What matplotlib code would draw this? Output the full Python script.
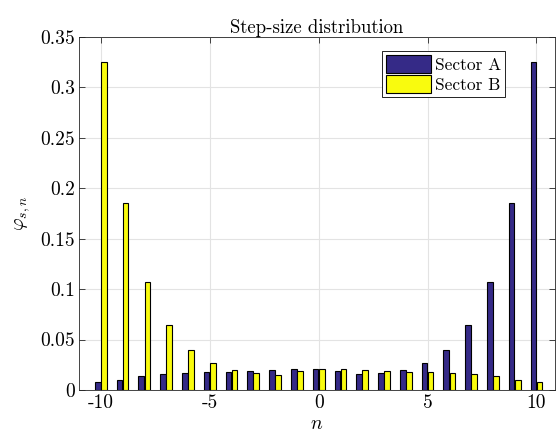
import matplotlib
matplotlib.use("Agg")
import matplotlib.pyplot as plt
import numpy as np

plt.rcParams['font.family'] = ['cmr10', 'DejaVu Serif']
plt.rcParams['mathtext.fontset'] = 'cm'
plt.rcParams['axes.formatter.use_mathtext'] = True

# step sizes and their probabilities for each sector
n = np.arange(-10, 11)
sector_a = [0.0083, 0.010, 0.014, 0.016, 0.017, 0.0177, 0.0183, 0.019, 0.020, 0.0207, 0.021,
            0.0193, 0.0157, 0.0167, 0.020, 0.0267, 0.040, 0.064, 0.107, 0.185, 0.325]
sector_b = [0.325, 0.185, 0.107, 0.064, 0.040, 0.027, 0.0197, 0.0167, 0.0153, 0.019, 0.021,
            0.0207, 0.020, 0.019, 0.0183, 0.0177, 0.017, 0.016, 0.014, 0.010, 0.0083]
x_ticks = [-10, -5, 0, 5, 10]
x_ticklabels = ['-10', '-5', '0', '5', '10']
y_ticks = [0, 0.05, 0.1, 0.15, 0.2, 0.25, 0.3, 0.35]
y_ticklabels = ['0', '0.05', '0.1', '0.15', '0.2', '0.25', '0.3', '0.35']

col_a = (0.2081, 0.1663, 0.5292)
col_b = (0.9763, 0.9831, 0.0538)
axcol = (0.15, 0.15, 0.15)

fig = plt.figure(figsize=(5.56, 4.44), dpi=100)
ax = fig.add_axes([79 / 556, 54 / 444, 476 / 556, 353.3 / 444])

w = 0.26
ax.bar(n - 0.14, sector_a, width=w, color=col_a, edgecolor='black', linewidth=0.8,
       label='Sector A', zorder=3)
ax.bar(n + 0.14, sector_b, width=w, color=col_b, edgecolor='black', linewidth=0.8,
       label='Sector B', zorder=3)

ax.set_xlim(-11, 10.85)
ax.set_ylim(0, 0.35)
ax.set_xticks(x_ticks)
ax.set_xticklabels(x_ticklabels)
ax.set_yticks(y_ticks)
ax.set_yticklabels(y_ticklabels)
ax.tick_params(direction='in', top=True, right=True, labelsize=14, colors=axcol,
               length=4, width=0.6, labelcolor='black', pad=3)
for s in ax.spines.values():
    s.set_color(axcol)
    s.set_linewidth(0.6)
ax.grid(True, color='#e3e3e3', linewidth=0.8, zorder=0)
ax.set_axisbelow(True)

ax.set_title('Step-size distribution', fontsize=13.5, pad=3)
ax.set_xlabel('$n$', fontsize=14, labelpad=2)
ax.set_ylabel(r'$\varphi_{s,n}$', fontsize=14, labelpad=6)

leg = ax.legend(loc='upper right', bbox_to_anchor=(505 / 556, 1 - 51 / 444),
                bbox_transform=fig.transFigure, fontsize=12.5, frameon=True, fancybox=False,
                edgecolor='black', framealpha=1, borderpad=0.25, handlelength=2.6,
                handleheight=1.2, handletextpad=0.2, labelspacing=0.1, borderaxespad=0)
leg.get_frame().set_linewidth(0.6)

fig.savefig('out.png', dpi=100)
